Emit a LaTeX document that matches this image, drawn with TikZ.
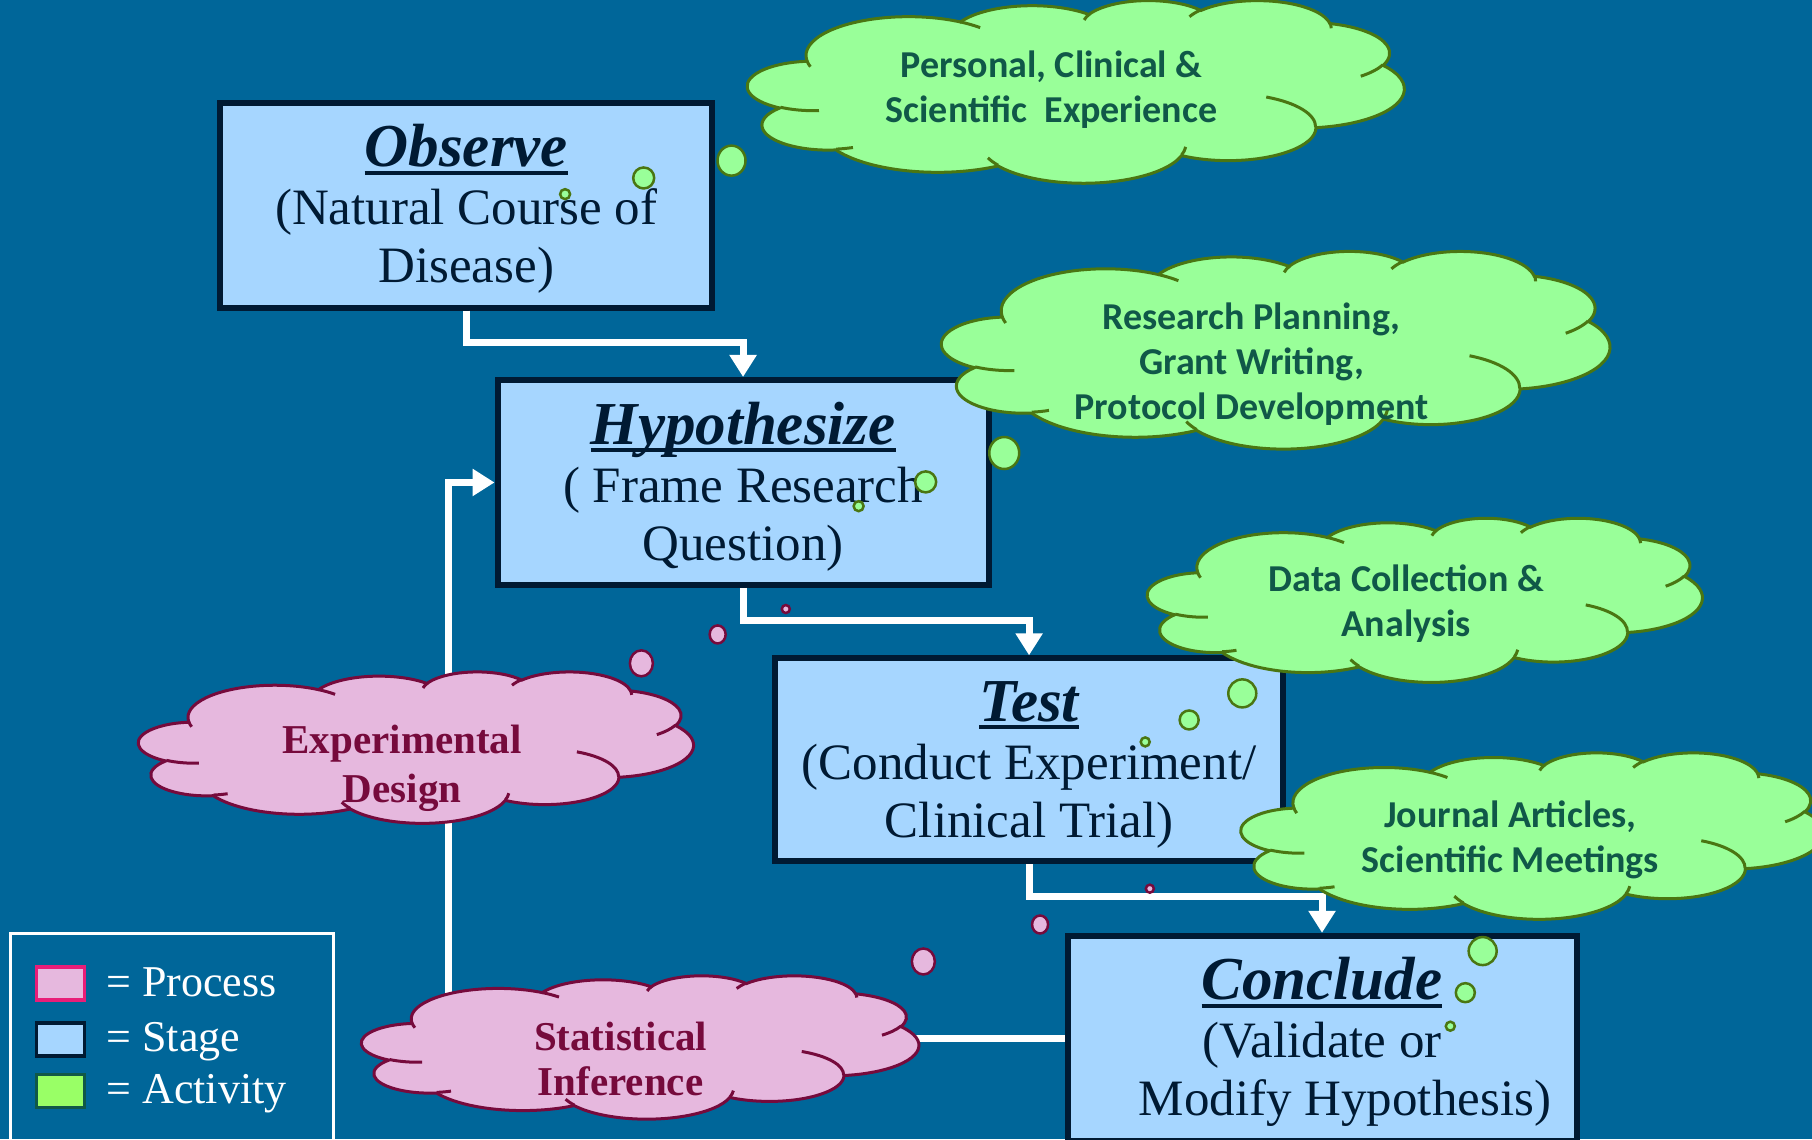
\documentclass[tikz,border=0pt]{standalone}
\usepackage{fontspec}
\setmainfont{Liberation Serif}
\newfontfamily\cloudfont{Carlito}
\usetikzlibrary{arrows.meta}

\definecolor{bgblue}{RGB}{0,102,153}
\definecolor{stagefill}{RGB}{166,214,255}
\definecolor{stageline}{RGB}{0,26,51}
\definecolor{actfill}{RGB}{153,255,153}
\definecolor{actline}{RGB}{74,118,18}
\definecolor{acttext}{RGB}{16,88,72}
\definecolor{procfill}{RGB}{230,184,222}
\definecolor{procline}{RGB}{118,10,60}
\definecolor{legpink}{RGB}{232,30,120}
\definecolor{leggreen}{RGB}{153,255,102}

% underline that runs through the descenders
\newcommand\ulword[1]{\setbox0\hbox{#1}\rlap{\rule[-8pt]{\wd0}{4pt}}\box0}
\newcommand\stagetitle[1]{{\rule{0pt}{50pt}\fontsize{61}{58}\selectfont\bfseries\itshape\ulword{#1}}}

% elliptical arc given by visual start angle and sweep
\newcommand\vang[4]{%
  \pgfmathparse{atan2(#1*sin(#3),#2*cos(#3))}\xdef\vts{\pgfmathresult}%
  \pgfmathparse{atan2(#1*sin(#3+#4),#2*cos(#3+#4))}\xdef\vte{\pgfmathresult}%
  \pgfmathparse{mod(\vte-\vts+720,360)}\xdef\vdl{\pgfmathresult}}
\newcommand\carc[4]{\pgfextra{\vang{#1}{#2}{#3}{#4}}
  arc[start angle=\vts, delta angle=\vdl, x radius=#1pt, y radius=#2pt]}

% cloud outline in a 100 x 100 box
\newcommand\cloudoutline{(9.028pt,33.264pt)
  \carc{15.632}{21.273}{-190.4875}{123.7805}
  \carc{12.345}{16.822}{-144.1024}{89.9452}
  \carc{10.104}{13.762}{-145.8079}{99.7230}
  \carc{11.243}{15.266}{-130.9861}{117.2417}
  \carc{12.345}{16.836}{-78.7089}{109.0269}
  \carc{15.683}{21.343}{-46.2673}{130.2690}
  \carc{13.391}{18.211}{0.6250}{114.0333}
  \carc{15.630}{21.331}{22.4516}{115.1726}
  \carc{17.870}{24.405}{66.2426}{75.7110}
  \carc{10.093}{13.699}{-274.9421}{146.7356}
  \carc{10.058}{13.762}{-246.8285}{152.5189}
  -- cycle}
% inner creases of the cloud
\newcommand\cloudcreases{%
  (10.863pt,60.595pt) \carc{10.058}{13.762}{86.7420}{26.4295}
  (16.037pt,80.785pt) \carc{10.093}{13.699}{73.6105}{11.4475}
  (38.144pt,90.486pt) \carc{15.630}{21.331}{137.6242}{14.0811}
  (66.729pt,80.442pt) \carc{15.630}{21.331}{6.4533}{15.9984}
  (79.002pt,53.134pt) \carc{13.391}{18.211}{-70.2924}{70.9174}
  (96.755pt,35.542pt) \carc{12.345}{16.836}{30.3180}{27.7515}
  (88.713pt,12.560pt) \carc{11.243}{15.266}{-13.7443}{14.8589}
  (67.310pt,9.148pt) \carc{11.243}{15.266}{-149.1815}{18.1954}
  (51.252pt,10.926pt) \carc{10.104}{13.762}{-163.4943}{17.6864}
  (32.407pt,12.019pt) \carc{15.632}{21.273}{-66.7070}{12.3194}
  (9.553pt,36.549pt) \carc{15.632}{21.273}{157.6544}{11.8582}}
% cloud filling the box left, top, right, bottom
\newcommand\cloudat[5]{%
  \begin{scope}[shift={(#1,#2)}, xscale={(#3-#1)*1.1556/100}, yscale={-(#4-#2)*1.1556/100}]
    \path[#5] \cloudoutline;
    \draw[#5, fill=none] \cloudcreases;
  \end{scope}}

\begin{document}
\begin{tikzpicture}[x=1.1556pt, y=-1.1556pt,
  stagebox/.style={draw=stageline, fill=stagefill, line width=6pt, text=stageline,
    align=center, font=\fontsize{51}{58}\selectfont, inner sep=0pt,
    minimum width=492pt, minimum height=205pt},
  flow/.style={draw=white, line width=7pt, -{Triangle[width=26pt,length=22pt]}},
  actcloud/.style={fill=actfill, draw=actline, line width=3pt},
  proccloud/.style={fill=procfill, draw=procline, line width=3pt},
  acttxt/.style={text=acttext, align=center, inner sep=0pt,
    font={\cloudfont\bfseries\fontsize{38}{45}\selectfont}},
  proctxt/.style={text=procline, align=center, inner sep=0pt,
    font={\bfseries\fontsize{41}{49}\selectfont}},
  actbub/.style={fill=actfill, draw=actline, line width=2.5pt},
  procbub/.style={fill=procfill, draw=procline, line width=2.5pt},
  swatch/.style={line width=3.5pt, minimum width=48pt, minimum height=33pt, inner sep=0pt},
  legtxt/.style={text=white, font=\fontsize{44}{50}\selectfont, anchor=base west, inner sep=0pt}]

\fill[bgblue] (0,0) rectangle (1568,986);
\useasboundingbox (0,0) rectangle (1568,986);
\clip (0,0) rectangle (1568,986);

% stages
\node[stagebox] (obs) at (403.5,177.5) {\stagetitle{Observe}\\(Natural Course of\\Disease)};
\node[stagebox, minimum width=491pt] (hyp) at (643,417.5) {\stagetitle{Hypothesize}\\( Frame Research\\Question)};
\node[stagebox, minimum width=508pt, minimum height=203pt] (test) at (890.5,657.5) {\stagetitle{Test}\\(Conduct Experiment/\\Clinical Trial)};
\node[stagebox, minimum width=509pt] (conc) at (1144,898.5) {\stagetitle{Conclude}\\(Validate or\\\hspace*{46pt}Modify Hypothesis)};

% flow between stages
\draw[flow] (obs.south) -- ++(0,28) -| (hyp.north);
\draw[flow] (hyp.south) -- ++(0,28) -| (test.north);
\draw[flow] (test.south) -- ++(0,28) -| (conc.north);
\draw[flow] (conc.west) -| ([xshift=-46pt]hyp.west) -- (hyp.west);

% activities
\cloudat{647}{0}{1215}{158}{actcloud}
\node[acttxt] (exper) at (910,77.5) {Personal, Clinical \&\\Scientific\ \ Experience};
\cloudat{815}{217}{1393}{388}{actcloud}
\node[acttxt] (plan) at (1083,315) {Research Planning,\\Grant Writing,\\Protocol Development};
\cloudat{993}{448}{1473}{590}{actcloud}
\node[acttxt] (data) at (1217,522.5) {Data Collection \&\\Analysis};
\cloudat{1074}{651}{1578}{795}{actcloud}
\node[acttxt] (publ) at (1307,726.5) {Journal Articles,\\Scientific Meetings};

% processes
\cloudat{120}{581}{600}{712}{proccloud}
\node[proctxt] (design) at (348,665) {Experimental\\Design};
\cloudat{313}{844}{795}{968}{proccloud}
\node[proctxt, font={\bfseries\fontsize{41}{45}\selectfont}] (infer) at (537,916) {Statistical\\Inference};

% thought bubbles
\path[actbub] (633,139) ellipse[x radius=14pt, y radius=15pt];
\path[actbub] (557,154) ellipse[x radius=10.5pt, y radius=10.5pt];
\path[actbub] (489,168) ellipse[x radius=5pt, y radius=5pt];
\path[actbub] (869,392) ellipse[x radius=15pt, y radius=16pt];
\path[actbub] (801,417) ellipse[x radius=10.5pt, y radius=10.5pt];
\path[actbub] (743,438) ellipse[x radius=5pt, y radius=5pt];
\path[actbub] (1075,600) ellipse[x radius=14pt, y radius=14pt];
\path[actbub] (1029,623) ellipse[x radius=9.5pt, y radius=9.5pt];
\path[actbub] (991,642) ellipse[x radius=4.5pt, y radius=4.5pt];
\path[actbub] (1283,823) ellipse[x radius=14pt, y radius=14pt];
\path[actbub] (1268,859) ellipse[x radius=9.5pt, y radius=9.5pt];
\path[actbub] (1255,888) ellipse[x radius=4.5pt, y radius=4.5pt];
\path[procbub] (555,574) ellipse[x radius=11.5pt, y radius=13pt];
\path[procbub] (621,549) ellipse[x radius=8pt, y radius=9pt];
\path[procbub] (680,527) ellipse[x radius=4pt, y radius=4pt];
\path[procbub] (799,832) ellipse[x radius=11.5pt, y radius=13pt];
\path[procbub] (900,800) ellipse[x radius=8pt, y radius=9pt];
\path[procbub] (995,769) ellipse[x radius=4pt, y radius=4pt];

% legend
\node[draw=white, line width=3pt, minimum width=323pt, minimum height=221pt, inner sep=0pt] (legend) at (149,903) {};
\node[swatch, fill=procfill, draw=legpink] (swproc) at (52.5,851) {};
\node[swatch, fill=stagefill, draw=stageline] (swstage) at (52.5,899.5) {};
\node[swatch, fill=leggreen, draw=acttext] (swact) at (52.5,944) {};
\node[legtxt] (tproc) at (92,862) {= Process};
\node[legtxt] (tstage) at (92,910) {= Stage};
\node[legtxt] (tact) at (92,955) {= Activity};
\end{tikzpicture}
\end{document}
